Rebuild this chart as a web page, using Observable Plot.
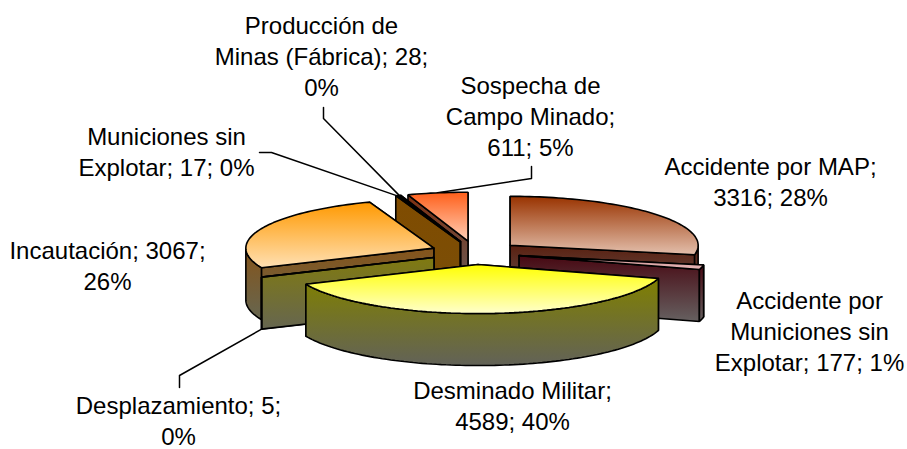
<!DOCTYPE html>
<html>
<head>
<meta charset="utf-8">
<script src="https://cdn.jsdelivr.net/npm/d3@7"></script>
<script src="https://cdn.jsdelivr.net/npm/@observablehq/plot@0.6"></script>
<style>html,body{margin:0;padding:0;background:#fff}svg{display:block}</style>
</head>
<body>
<div id="chart"></div>
<script>
// ---- data (clockwise from 12 o'clock)
const categories = ["Accidente por MAP","Accidente por Municiones sin Explotar","Desminado Militar","Desplazamiento","Incautación","Municiones sin Explotar","Producción de Minas (Fábrica)","Sospecha de Campo Minado"];
const values = [3316,177,4589,5,3067,17,28,611];
const percents = [28,1,40,0,26,0,0,5];

// ---- styling and layout
const topColors = [["#993300","#e3bfac"],["#cc9090","#e8b8b8"],["#ffff00","#ffffcc"],["#808000","#a09a50"],["#ff9900","#ffe0b3"],["#804c00","#a07030"],["#001a4d","#334"],["#ff5f1a","#ffd0b8"]];
const sideColors = [["#5a2010","#666060"],["#470812","#666060"],["#808000","#626258"],["#807a10","#666650"],["#85541a","#666650"],["#804c00","#7a4e08"],["#00184a","#333344"],["#7f3010","#666060"]];
const lineBreaks = [["MAP; "],["por ","sin "],["Militar; "],["5; "],["3067; "],["sin "],["de ","28; "],["de ","Minado; "]];
const labelAt = [[770,181.5],[809,331],[512,405],[178,420],[107,265.5],[166,151],[321,56],[530,115.5]];
const leaderVia = [null,null,null,[[179,387],[179,375]],null,[[259,152],[271,152]],[[323,107],[323,118]],[[531,166],[531,178]]];
const paintOrder = [7,6,5,0,1,4,3,2];
const cx = 474.8, cy = 252.3, rx = 188, ry = 49;
const explode = 0.24, depth = 52 / ry;
const W = 907, H = 449;

// ---- pie geometry in unit-circle coordinates; the x and y scales project it
const total = d3.sum(values);
const rad = d => d * Math.PI / 180;
let acc = 0;
const slices = values.map((v, i) => {
  const a0 = acc / total * 360; acc += v; const a1 = acc / total * 360;
  const mid = (a0 + a1) / 2;
  return {i, a0, a1, mid, ox: explode * Math.sin(rad(mid)), oy: -explode * Math.cos(rad(mid))};
});
const pt = (s, a, r = 1, z = 0) => ({x: s.ox + r * Math.sin(rad(a)), y: s.oy - r * Math.cos(rad(a)) + z});
const arc = (s, a0, a1, z = 0) => {
  const n = Math.max(1, Math.ceil(Math.abs(a1 - a0) / 1.5));
  return d3.range(n + 1).map(k => pt(s, a0 + (a1 - a0) * k / n, 1, z));
};
const closed = p => [...p, p[0]];
const wall = (s, a) => closed([pt(s, a, 0), pt(s, a), pt(s, a, 1, depth), pt(s, a, 0, depth)]);

const faces = [];
for (const idx of paintOrder) {
  const s = slices[idx];
  // paint the cut face whose rim lies further back first
  const [back, front] = Math.cos(rad(s.a0)) > Math.cos(rad(s.a1)) ? [s.a0, s.a1] : [s.a1, s.a0];
  faces.push({pts: wall(s, back), g: `side${idx}`});
  faces.push({pts: wall(s, front), g: `side${idx}`});
  const f0 = Math.max(s.a0, 90), f1 = Math.min(s.a1, 270);
  if (f1 > f0) faces.push({pts: closed([...arc(s, f0, f1), ...arc(s, f1, f0, depth)]), g: `side${idx}`});
  faces.push({pts: closed([pt(s, s.a0, 0), ...arc(s, s.a0, s.a1)]), g: `top${idx}`});
}

const ux = px => (px - cx) / rx, uy = py => (py - cy) / ry;
const leaders = leaderVia.flatMap((via, i) => {
  if (!via) return [];
  const s = slices[i];
  const end = pt(s, s.mid, 1, s.mid > 90 && s.mid < 270 ? depth : 0);
  return [[...via.map(([x, y]) => ({x: ux(x), y: uy(y)})), end]];
});

const labels = categories.map((c, i) => {
  let t = `${c}; ${values[i]}; ${percents[i]}%`;
  for (const b of lineBreaks[i]) t = t.replace(b, b.trimEnd() + "\n");
  return {text: t, x: ux(labelAt[i][0]), y: uy(labelAt[i][1])};
});

function gradients() {
  const g = d3.create("svg:g");
  const defs = g.append("defs");
  const add = (id, [a, b]) => {
    const lg = defs.append("linearGradient").attr("id", id).attr("x1", 0).attr("y1", 0).attr("x2", 0).attr("y2", 1);
    lg.append("stop").attr("offset", 0).attr("stop-color", a);
    lg.append("stop").attr("offset", 1).attr("stop-color", b);
  };
  topColors.forEach((c, i) => add(`top${i}`, c));
  sideColors.forEach((c, i) => add(`side${i}`, c));
  return g.node();
}

const chart = Plot.plot({
  width: W, height: H,
  marginTop: 0, marginRight: 0, marginBottom: 0, marginLeft: 0,
  x: {domain: [-1, 1], range: [cx - rx, cx + rx], axis: null},
  y: {domain: [-1, 1], range: [cy - ry, cy + ry], axis: null},
  style: {background: "#fff", fontFamily: "'Liberation Sans', Arial, sans-serif", overflow: "visible"},
  marks: [
    gradients,
    ...leaders.map(l => Plot.line(l, {x: "x", y: "y", stroke: "#000", strokeWidth: 1.5})),
    ...faces.map(f => Plot.line(f.pts, {x: "x", y: "y", fill: `url(#${f.g})`, stroke: "#000", strokeWidth: 1.6, strokeLinejoin: "miter"})),
    Plot.text(labels, {x: "x", y: "y", dy: -1, text: "text", textAnchor: "middle", lineAnchor: "middle", lineHeight: 1.29, fontSize: 24, fill: "#000"})
  ]
});
document.getElementById("chart").append(chart);
</script>
</body>
</html>
